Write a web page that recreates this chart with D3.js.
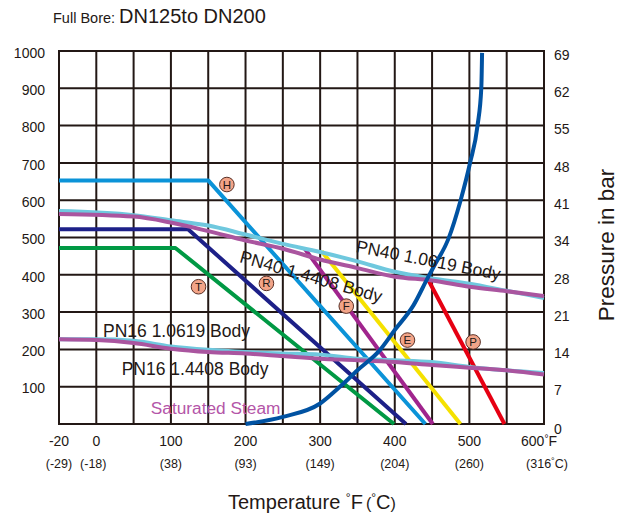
<!DOCTYPE html>
<html>
<head>
<meta charset="utf-8">
<script src="https://d3js.org/d3.v7.min.js"></script>
<style>
    body {margin: 0; background: #fff;}
    text {font-family: "Liberation Sans", Arial, sans-serif; fill: #231815;}
</style>
</head>
<body>
<div id="chart"></div>
<script>
// temperature in °F, pressure in psi (left axis)
var tempTicks = [-20, 0, 100, 200, 300, 400, 500, 600];
var tempLabels = ["-20", "0", "100", "200", "300", "400", "500", "600"];
var celsiusLabels = ["(-29)", "(-18)", "(38)", "(93)", "(149)", "(204)", "(260)", "(316"];
var gridTemps = [-20, 0, 50, 100, 150, 200, 250, 300, 350, 400, 450, 500, 550, 600];
var psiTicks = [0, 100, 200, 300, 400, 500, 600, 700, 800, 900, 1000];
var barLabels = ["0", "7", "14", "21", "28", "34", "41", "48", "55", "62", "69"];

var pn40_10619 = [[-20,571],[50,560],[100,546],[150,532],[200,508],[250,483],[300,461],[350,436],[400,408],[450,390],[500,376],[550,357],[600,338]];
var pn40_14408 = [[-20,563],[50,556],[100,540],[150,517],[200,492],[250,470],[300,441],[350,418],[400,395],[450,385],[500,368],[550,356],[600,343]];
var pn16_10619 = [[-20,227],[0,227],[50,223],[100,208],[150,199],[200,193],[250,189],[300,186],[350,175],[400,171],[450,166],[500,153],[550,144],[600,137]];
var pn16_14408 = [[-20,227],[0,225],[50,217],[100,202],[150,193],[200,189],[250,182],[300,175],[350,171],[400,166],[450,158],[500,151],[550,144],[600,133]];

var seriesH = [[-20,653],[150,653],[441,0]];
var seriesR = [[-20,522],[123,522],[415,0]];
var seriesT = [[-20,472],[106,472],[399,0]];
var seriesF = [[279,471],[451,0]];
var seriesE = [[302,463],[488,0]];
var seriesP = [[445,386],[547,0]];

var steam = [[200,0],[250,19],[300,55],[326,99],[350,144],[380,198],[400,252],[425,318],[444,391],[452,421],[472,497],[488,598],[501,701],[511,801],[516,902],[517,995]];

var markers = [
    {k: "H", t: 175, p: 642},
    {k: "T", t: 137, p: 368},
    {k: "R", t: 228, p: 377},
    {k: "F", t: 335, p: 316},
    {k: "E", t: 417, p: 225},
    {k: "P", t: 505, p: 220}
];

var svg = d3.select("#chart").append("svg")
    .attr("width", 622)
    .attr("height", 517);

var x = d3.scaleLinear().domain([-20, 0, 600]).range([59, 96.3, 544]);
var y = d3.scaleLinear().domain([0, 1000]).range([424, 51]);

var line = d3.line()
    .x(function(d){ return x(d[0]); })
    .y(function(d){ return y(d[1]); });

// title
var title = svg.append("text").attr("x", 53).attr("y", 23);
title.append("tspan").attr("font-size", 14.5).text("Full Bore: ");
title.append("tspan").attr("font-size", 20).text("DN125to DN200");

// grid
var grid = svg.append("g").attr("stroke", "#231815").attr("stroke-width", 2);
grid.selectAll(".v").data(gridTemps).enter().append("line")
    .attr("x1", function(d){ return x(d); }).attr("x2", function(d){ return x(d); })
    .attr("y1", y(0)).attr("y2", y(1000));
grid.selectAll(".h").data(psiTicks).enter().append("line")
    .attr("y1", function(d){ return y(d); }).attr("y2", function(d){ return y(d); })
    .attr("x1", x(-20) - 1).attr("x2", x(600) + 1);

// left axis labels
svg.selectAll(".lt").data(psiTicks.slice(1)).enter().append("text")
    .attr("x", 45).attr("y", function(d){ return y(d) + 3; })
    .attr("text-anchor", "end").attr("dominant-baseline", "middle")
    .attr("font-size", 14).text(function(d){ return d; });

// right axis labels
svg.selectAll(".rt").data(barLabels).enter().append("text")
    .attr("x", 554).attr("y", function(d, i){ return y(psiTicks[i]) + (i == 0 ? 6 : 5); })
    .attr("dominant-baseline", "middle")
    .attr("font-size", 14).text(function(d){ return d; });

// bottom labels
var fl = svg.selectAll(".ft").data(tempTicks).enter().append("text")
    .attr("x", function(d){ return x(d) - (d == 600 ? 5 : 0); }).attr("y", 446)
    .attr("text-anchor", "middle").attr("font-size", 14)
    .text(function(d, i){ return tempLabels[i]; });
fl.filter(function(d){ return d == 600; }).each(function(){
    var t = d3.select(this);
    t.append("tspan").attr("font-size", 10).attr("dy", -4).text("°");
    t.append("tspan").attr("dy", 4).text("F");
});

var cl = svg.selectAll(".ct").data(tempTicks).enter().append("text")
    .attr("x", function(d){ return x(d) + (d == 0 ? -3 : 0) + (d == 600 ? 3 : 0); }).attr("y", 468)
    .attr("text-anchor", "middle").attr("font-size", 12.5)
    .text(function(d, i){ return celsiusLabels[i]; });
cl.filter(function(d){ return d == 600; }).each(function(){
    var t = d3.select(this);
    t.append("tspan").attr("font-size", 9).attr("dy", -4).text("°");
    t.append("tspan").attr("dy", 4).text("C)");
});

// axis titles
var xt = svg.append("text").attr("x", 228).attr("y", 509).attr("font-size", 20);
xt.append("tspan").text("Temperature ");
xt.append("tspan").attr("font-size", 12).attr("dy", -7).text("°");
xt.append("tspan").attr("dy", 7).text("F");
xt.append("tspan").attr("font-size", 16).attr("dx", 3).text("(");
xt.append("tspan").attr("font-size", 12).attr("dy", -7).text("°");
xt.append("tspan").attr("dy", 7).text("C");
xt.append("tspan").attr("font-size", 16).text(")");

svg.append("text")
    .attr("transform", "translate(614,245) rotate(-90)")
    .attr("text-anchor", "middle").attr("font-size", 22.5)
    .text("Pressure in bar");

// series
function draw(data, color, curve)
{
    svg.append("path")
        .datum(data)
        .attr("fill", "none")
        .attr("stroke", color)
        .attr("stroke-width", 4)
        .attr("stroke-linejoin", "round")
        .attr("d", line.curve(curve || d3.curveLinear));
}

draw(seriesT, "#009944");
draw(seriesR, "#1d2088");
draw(seriesH, "#0b93d8");
draw(seriesF, "#a0248d");
draw(seriesE, "#f5e100");
draw(seriesP, "#e60012");
draw(pn16_10619, "#6fc8de", d3.curveMonotoneX);
draw(pn16_14408, "#aa559f", d3.curveMonotoneX);
draw(pn40_10619, "#6fc8de", d3.curveMonotoneX);
draw(pn40_14408, "#aa559f", d3.curveMonotoneX);
draw(steam, "#0052a2", d3.curveMonotoneX);

// text labels
svg.append("text").attr("x", x(9)).attr("y", y(233)).attr("font-size", 17.5).text("PN16 1.0619 Body");
svg.append("text").attr("x", x(34)).attr("y", y(131)).attr("font-size", 17.5).text("PN16 1.4408 Body");
svg.append("text").attr("x", x(73)).attr("y", y(28)).attr("font-size", 17.3)
    .style("fill", "#b455a8").text("Saturated Steam");
svg.append("text").attr("font-size", 17.5)
    .attr("transform", "translate(" + x(191) + "," + y(434) + ") rotate(16)")
    .text("PN40 1.4408 Body");
svg.append("text").attr("font-size", 17.5)
    .attr("transform", "translate(" + x(347) + "," + y(461) + ") rotate(11)")
    .text("PN40 1.0619 Body");

// circle markers
var mk = svg.selectAll(".mk").data(markers).enter().append("g")
    .attr("transform", function(d){ return "translate(" + x(d.t) + "," + y(d.p) + ")"; });
mk.append("circle").attr("r", 7.3).attr("fill", "#f2a488").attr("stroke", "#5a3026").attr("stroke-width", 1);
mk.append("text").attr("text-anchor", "middle").attr("dominant-baseline", "central")
    .attr("font-size", 11.5).text(function(d){ return d.k; });
</script>
</body>
</html>
